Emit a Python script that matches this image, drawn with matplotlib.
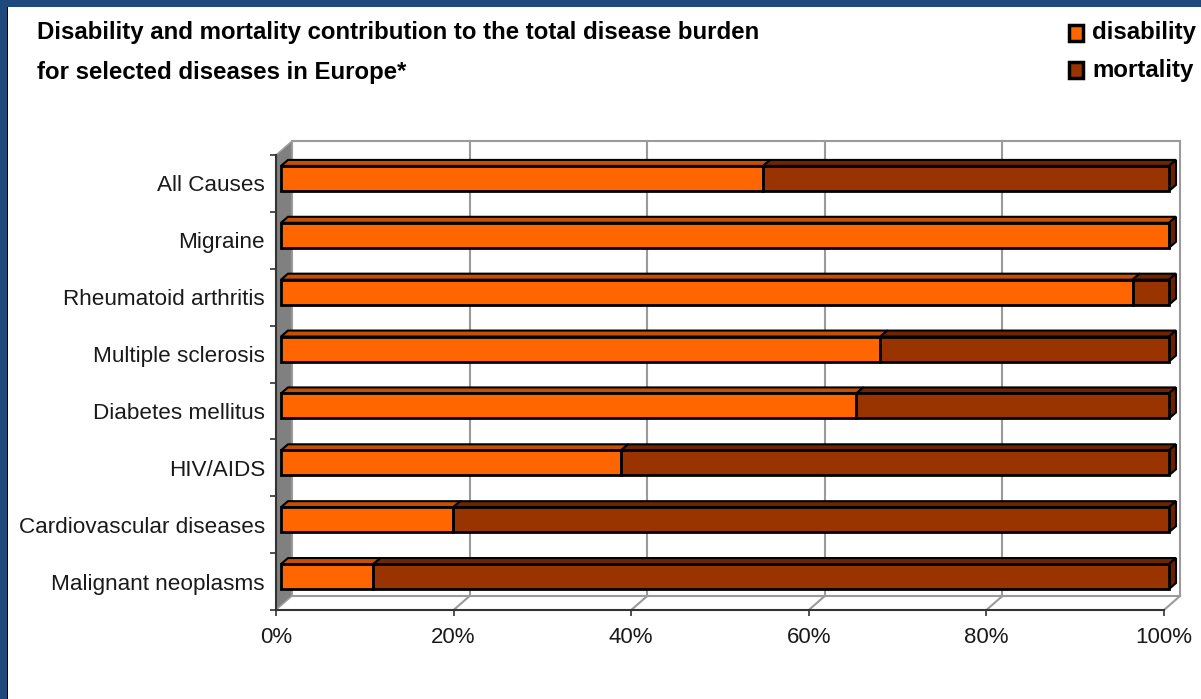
import numpy as np
import matplotlib
matplotlib.use('Agg')
import matplotlib.pyplot as plt
from matplotlib.patches import Rectangle, Polygon
from matplotlib.transforms import offset_copy, IdentityTransform
from matplotlib.lines import Line2D

# disease burden split, share of disability (rest is mortality)
categories = ['All Causes', 'Migraine', 'Rheumatoid arthritis', 'Multiple sclerosis',
              'Diabetes mellitus', 'HIV/AIDS', 'Cardiovascular diseases', 'Malignant neoplasms']
disability = [0.543, 1.0, 0.959, 0.675, 0.648, 0.383, 0.194, 0.104]
mortality = [1 - d for d in disability]
xticks = [0, 0.2, 0.4, 0.6, 0.8, 1.0]
xticklabels = ['0%', '20%', '40%', '60%', '80%', '100%']

C_DIS = '#FF6600'
C_MORT = '#993300'
C_DIS_TOP = '#C65000'
C_MORT_TOP = '#6E2400'
C_SIDE = '#6A2200'

W, H = 1201, 699
plt.rcParams['font.family'] = ['Liberation Sans', 'DejaVu Sans']
fig = plt.figure(figsize=(W / 100, H / 100), dpi=100)
fig.patch.set_facecolor('white')

# frame: blue band on the top and left edge
fig.patches.append(Rectangle((0, 1 - 7 / H), 1, 7 / H, transform=fig.transFigure,
                             facecolor='#1F497D', edgecolor='none', zorder=0))
fig.patches.append(Rectangle((0, 0), 7 / W, 1, transform=fig.transFigure,
                             facecolor='#1F497D', edgecolor='none', zorder=0))
fig.patches.append(Rectangle((7 / W, 0), 1 / W, 1 - 7 / H, transform=fig.transFigure,
                             facecolor='black', edgecolor='none', zorder=0))

# front plot box in pixels
x0px, x1px = 276, 1164
ytop, ybot = 155, 610
ax = fig.add_axes([x0px / W, (H - ybot) / H, (x1px - x0px) / W, (ybot - ytop) / H])
ax.set_xlim(0, 1)
n = len(categories)
ax.set_ylim(n - 0.5, -0.5)
ax.patch.set_visible(False)
for s in ax.spines.values():
    s.set_visible(False)

# depth offsets (pixels)
WALL_DX, WALL_DY = 16, 14
BAR_DX, BAR_DY = 5, 5
DEP_DX, DEP_DY = 7, 6
bar_h = 0.44

T = ax.transData
def disp(x, y):
    return T.transform((x, y))

ident = IdentityTransform()

# back wall and gridlines
bl = disp(0, n - 0.5)
tr = disp(1, -0.5)
wall = Polygon([(bl[0] + WALL_DX, bl[1] + WALL_DY), (tr[0] + WALL_DX, bl[1] + WALL_DY),
                (tr[0] + WALL_DX, tr[1] + WALL_DY), (bl[0] + WALL_DX, tr[1] + WALL_DY)],
               closed=True, transform=ident, facecolor='white', edgecolor='#9A9A9A',
               lw=1.5, zorder=0.5, clip_on=False)
ax.add_patch(wall)
for xv in xticks[1:-1]:
    px = disp(xv, 0)[0] + WALL_DX
    ax.add_line(Line2D([px, px], [bl[1] + WALL_DY, tr[1] + WALL_DY], transform=ident,
                       color='#9A9A9A', lw=1.5, zorder=0.6, clip_on=False))
# floor diagonals
for xv in xticks[1:]:
    px = disp(xv, 0)[0]
    ax.add_line(Line2D([px, px + WALL_DX], [bl[1], bl[1] + WALL_DY], transform=ident,
                       color='#9A9A9A', lw=1.5, zorder=0.6, clip_on=False))
# left side wall
lw_poly = Polygon([(bl[0], bl[1]), (bl[0], tr[1]), (bl[0] + WALL_DX, tr[1] + WALL_DY),
                   (bl[0] + WALL_DX, bl[1] + WALL_DY)], closed=True, transform=ident,
                  facecolor='#808080', edgecolor='#A0A0A0', lw=1, zorder=0.7, clip_on=False)
ax.add_patch(lw_poly)
# front axes lines
ax.add_line(Line2D([bl[0], tr[0]], [bl[1], bl[1]], transform=ident, color='#333333',
                   lw=1.5, zorder=1, clip_on=False))
ax.add_line(Line2D([bl[0], bl[0]], [bl[1], tr[1]], transform=ident, color='#333333',
                   lw=1.5, zorder=1, clip_on=False))

# bars (front faces), shifted into the depth of the box
ypos = np.arange(n)
bar_tr = offset_copy(ax.transData, fig=fig, x=BAR_DX, y=BAR_DY, units='dots')
ax.barh(ypos, disability, height=bar_h, color=C_DIS, edgecolor='black', lw=2,
        transform=bar_tr, zorder=3, clip_on=False)
ax.barh(ypos, mortality, left=disability, height=bar_h, color=C_MORT, edgecolor='black',
        lw=2, transform=bar_tr, zorder=3, clip_on=False)

# top and end faces of the bars
for i in range(n):
    segs = [(0, disability[i], C_DIS_TOP), (disability[i], mortality[i], C_MORT_TOP)]
    for left, width, ctop in segs:
        if width <= 0:
            continue
        a = disp(left, ypos[i] - bar_h / 2)
        b = disp(left + width, ypos[i] + bar_h / 2)
        xa, xb = a[0] + BAR_DX, b[0] + BAR_DX
        yt = a[1] + BAR_DY
        top = Polygon([(xa, yt), (xb, yt), (xb + DEP_DX, yt + DEP_DY), (xa + DEP_DX, yt + DEP_DY)],
                      closed=True, transform=ident, facecolor=ctop, edgecolor='black',
                      lw=1.5, zorder=2, clip_on=False)
        ax.add_patch(top)
    xe = disp(1, 0)[0] + BAR_DX
    yt = disp(0, ypos[i] - bar_h / 2)[1] + BAR_DY
    yb = disp(0, ypos[i] + bar_h / 2)[1] + BAR_DY
    side = Polygon([(xe, yb), (xe, yt), (xe + DEP_DX, yt + DEP_DY), (xe + DEP_DX, yb + DEP_DY)],
                   closed=True, transform=ident, facecolor=C_SIDE, edgecolor='black',
                   lw=1.5, zorder=2, clip_on=False)
    ax.add_patch(side)

# ticks and labels
ax.set_xticks(xticks)
ax.set_xticklabels(xticklabels, fontsize=16, color='#1a1a1a')
ax.tick_params(axis='x', length=4.5, width=1.2, color='#333333', pad=8)
ax.set_yticks(ypos)
ax.set_yticklabels(categories, fontsize=16.2, color='#1a1a1a')
ax.tick_params(axis='y', which='major', length=0, pad=8)
ax.set_yticks(np.arange(n + 1) - 0.5, minor=True)
ax.tick_params(axis='y', which='minor', length=4.5, width=1.2, color='#333333')

# title
title_font = ['Liberation Sans Narrow', 'Liberation Sans', 'DejaVu Sans']
fig.text(37 / W, 1 - 33 / H, 'Disability and mortality contribution to the total disease burden',
         family=title_font, fontweight='bold', fontsize=17.3, va='center', ha='left')
fig.text(37 / W, 1 - 72 / H, 'for selected diseases in Europe*',
         family=title_font, fontweight='bold', fontsize=17.3, va='center', ha='left')

# legend
for yc, col, lab in [(33, C_DIS, 'disability'), (70, C_MORT, 'mortality')]:
    fig.patches.append(Rectangle((1069 / W, 1 - (yc + 8) / H), 14 / W, 16 / H,
                                 transform=fig.transFigure, facecolor=col,
                                 edgecolor='black', lw=2.5))
    fig.text(1092 / W, 1 - yc / H, lab, family=title_font, fontweight='bold',
             fontsize=17.3, va='center', ha='left')

fig.savefig('out.png', dpi=100)
